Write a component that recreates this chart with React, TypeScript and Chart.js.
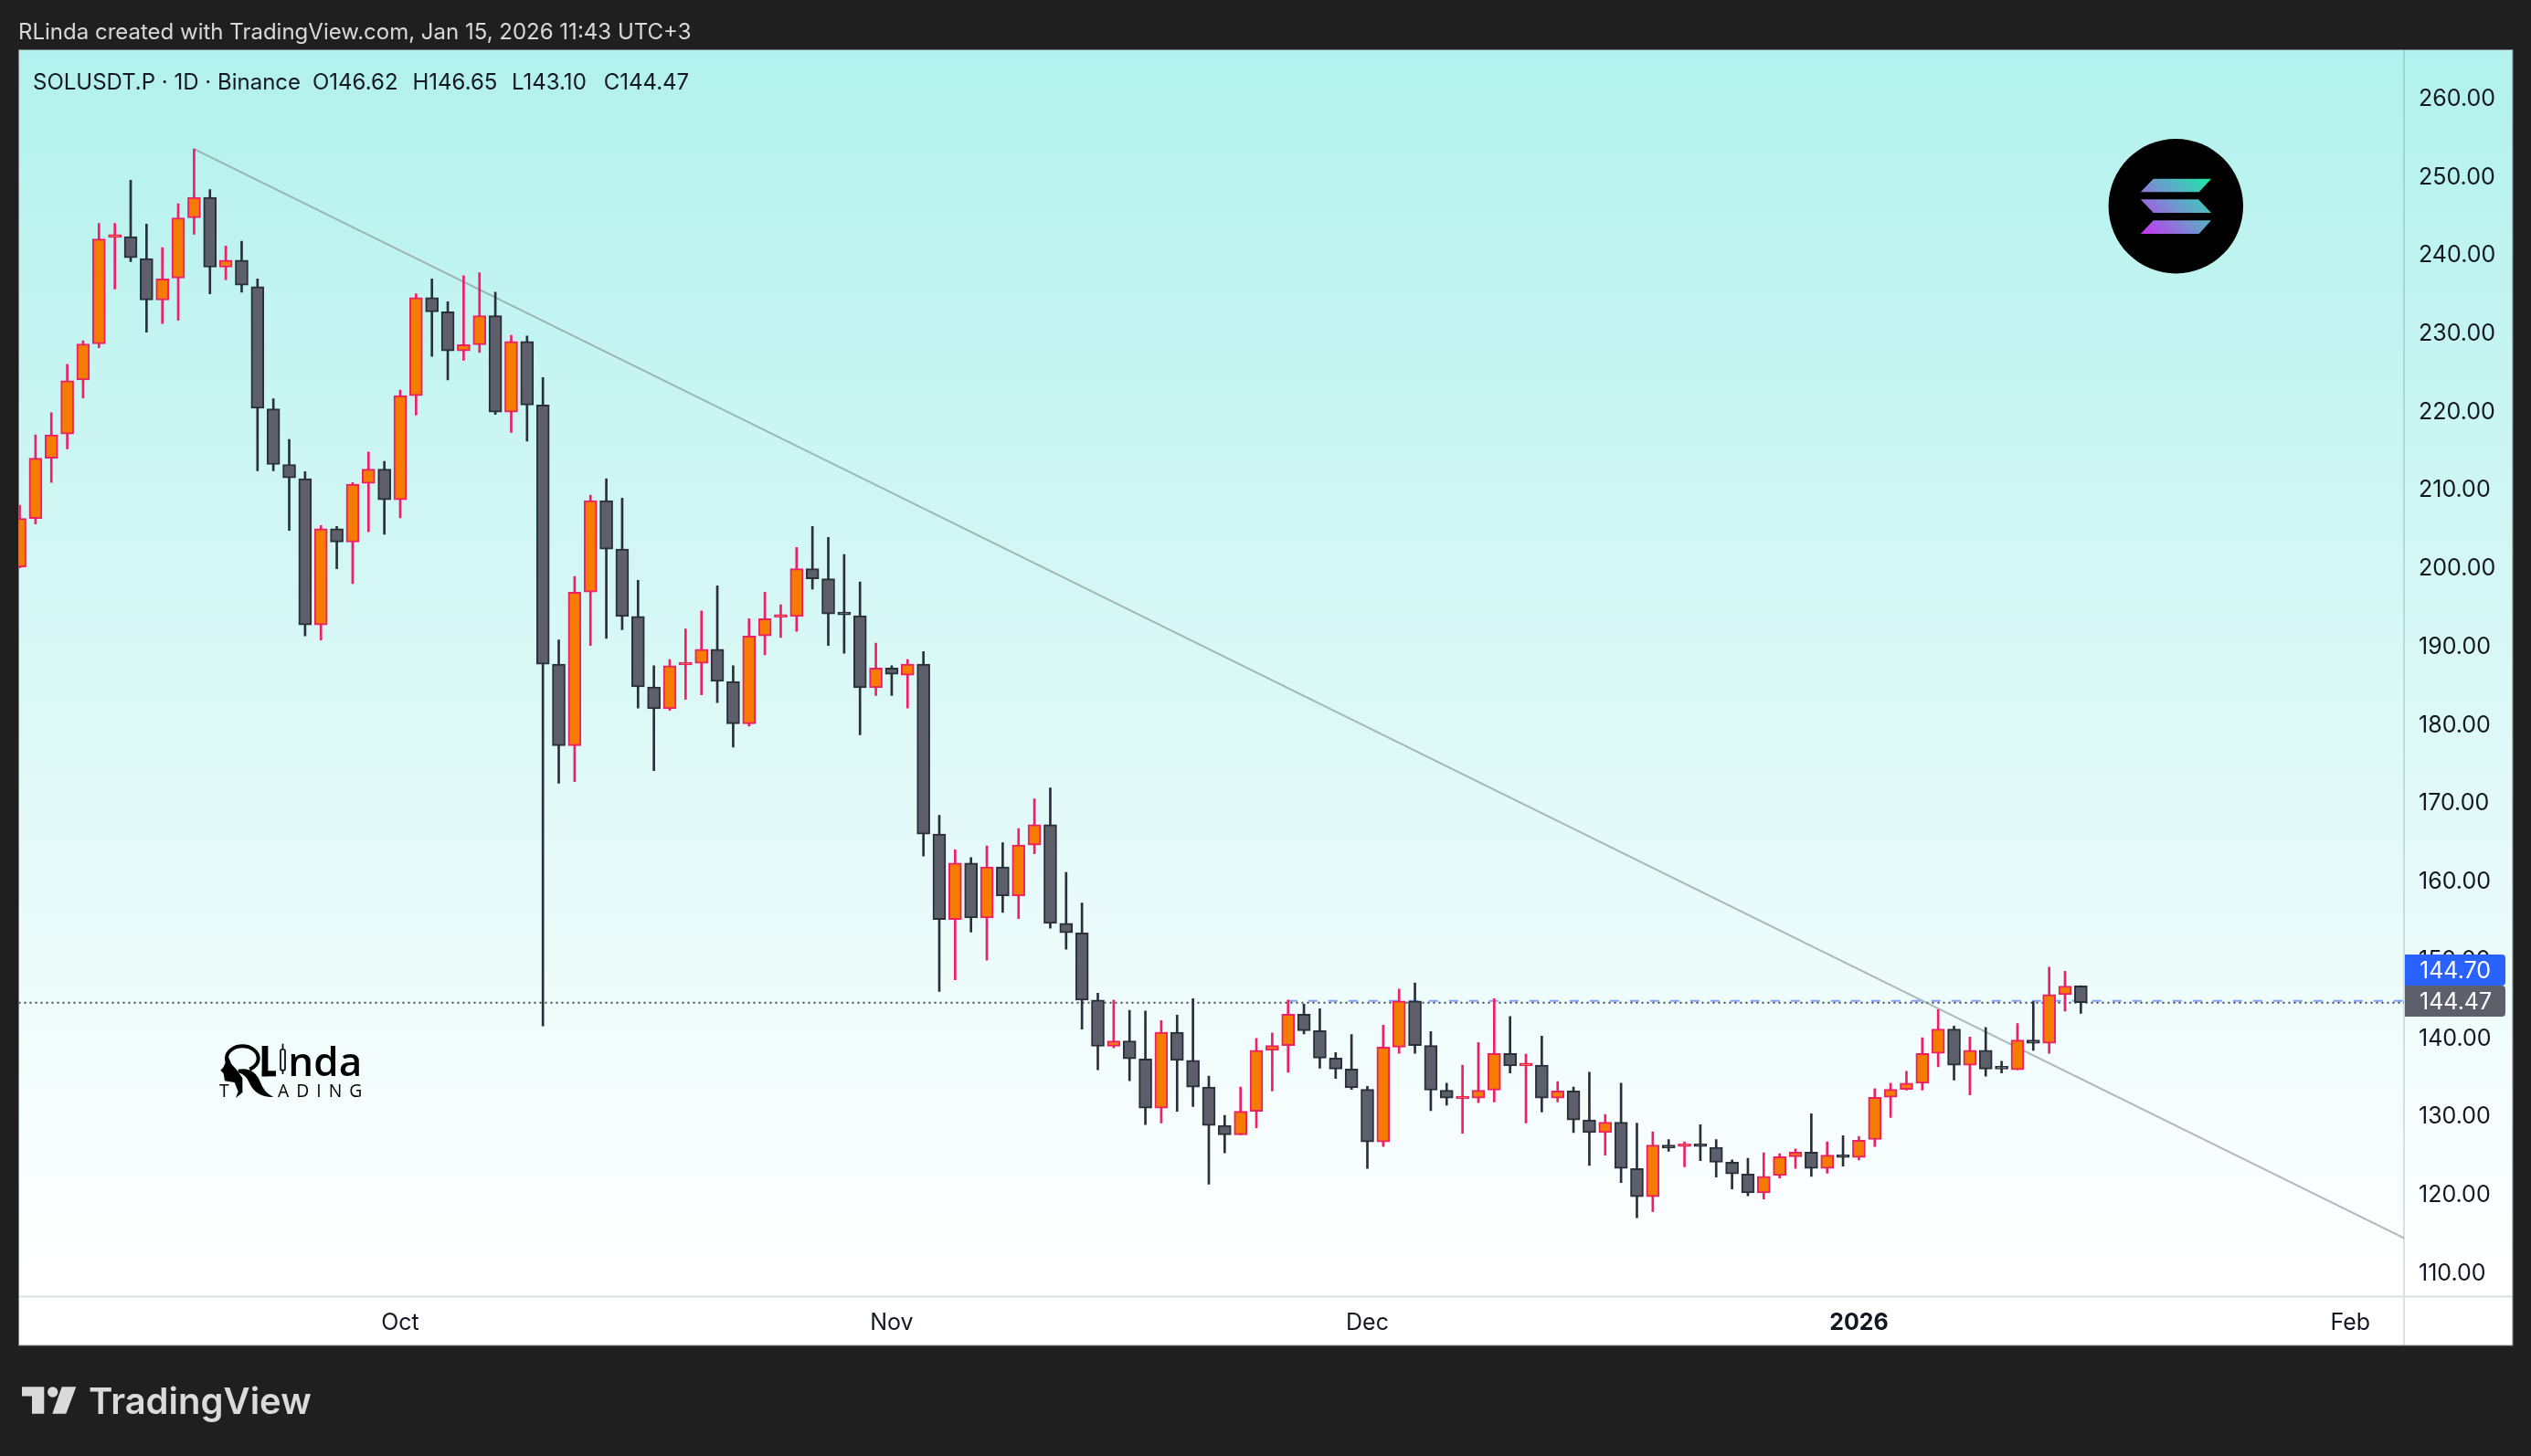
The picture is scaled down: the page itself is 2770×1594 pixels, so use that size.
import { useEffect, useRef } from "react";
import Chart from "chart.js/auto";

const FONT = "Inter, 'Noto Sans', sans-serif";

// days counted from Oct 1, first candle is Sep 7
const FIRST_DAY = -24;

const opens = [
  200.1, 206.3, 214.0, 217.1, 224.0, 228.6, 242.2, 242.3, 239.5, 234.2, 237.0, 244.7, 247.3, 238.4, 239.3, 235.9,
  220.3, 213.2, 211.4, 192.7, 205.0, 203.3, 210.8, 212.6, 208.7, 222.0, 234.5, 232.7, 227.7, 228.5, 232.2, 219.9,
  228.9, 220.8, 187.7, 177.3, 196.9, 208.6, 202.4, 193.8, 184.8, 182.0, 187.6, 187.8, 189.6, 185.5, 180.1, 191.3,
  193.7, 193.8, 199.9, 198.6, 194.2, 193.9, 184.7, 187.2, 186.3, 187.7, 166.0, 155.1, 162.3, 155.3, 161.8, 158.1,
  164.6, 167.2, 154.6, 153.4, 144.8, 138.9, 139.6, 137.3, 131.0, 140.7, 137.1, 133.7, 128.8, 127.6, 130.6, 138.4,
  139.0, 143.0, 140.9, 137.4, 136.0, 133.4, 126.7, 138.8, 144.7, 139.0, 133.3, 132.2, 132.3, 133.3, 138.0, 136.4,
  136.5, 132.3, 133.2, 129.5, 127.9, 129.2, 123.3, 119.7, 126.3, 126.1, 126.2, 126.0, 124.1, 122.6, 120.2, 122.4,
  124.8, 125.4, 123.3, 125.0, 124.7, 127.0, 132.4, 133.4, 134.2, 138.0, 141.1, 136.5, 138.4, 136.1, 135.9, 139.7,
  139.3, 145.5, 146.62,
];
const highs = [
  208.0, 217.0, 219.8, 226.0, 229.0, 244.0, 244.0, 249.5, 243.9, 240.9, 246.5, 253.5, 248.3, 241.1, 241.7, 236.9,
  221.6, 216.4, 212.3, 205.4, 205.3, 210.9, 214.8, 213.6, 222.7, 235.0, 236.9, 234.0, 237.3, 237.7, 235.2, 229.7,
  229.6, 224.3, 190.8, 198.9, 209.3, 211.4, 208.9, 198.4, 187.5, 188.3, 192.2, 194.5, 197.7, 187.5, 193.5, 196.9,
  195.3, 202.6, 205.3, 203.9, 201.7, 198.2, 190.4, 187.5, 188.3, 189.3, 168.4, 164.0, 163.0, 164.5, 164.9, 166.7,
  170.5, 171.9, 161.1, 157.2, 145.7, 144.8, 143.5, 143.4, 142.2, 142.9, 145.0, 135.1, 130.1, 133.7, 139.9, 140.6,
  144.8, 144.3, 143.7, 138.1, 140.4, 133.8, 141.6, 146.2, 147.0, 140.8, 134.2, 136.5, 139.4, 145.0, 142.7, 137.9,
  140.2, 134.4, 133.7, 135.6, 130.2, 134.2, 129.1, 128.0, 127.0, 126.7, 128.9, 127.0, 124.4, 124.6, 125.3, 125.2,
  125.8, 130.3, 126.7, 127.5, 127.4, 133.5, 134.2, 135.7, 140.0, 143.6, 141.5, 140.1, 141.3, 137.0, 141.8, 144.6,
  149.0, 148.5, 146.65,
];
const lows = [
  200.0, 205.6, 210.9, 215.2, 221.7, 228.1, 235.6, 239.1, 230.1, 231.2, 231.6, 242.6, 235.0, 236.8, 235.2, 212.4,
  212.4, 204.8, 191.3, 190.8, 199.9, 198.0, 204.6, 204.3, 206.4, 219.5, 227.0, 224.0, 226.5, 227.5, 219.6, 217.3,
  216.2, 141.5, 172.5, 172.7, 190.1, 191.0, 192.1, 182.1, 174.1, 181.8, 183.2, 183.8, 182.8, 177.1, 179.8, 188.9,
  191.1, 191.9, 197.3, 190.1, 189.1, 178.7, 183.7, 183.7, 182.1, 163.2, 145.9, 147.4, 153.5, 149.9, 156.0, 155.2,
  163.5, 154.0, 151.3, 141.1, 135.9, 138.7, 134.5, 128.9, 129.1, 130.6, 131.2, 121.3, 125.3, 127.6, 128.5, 133.2,
  135.6, 140.5, 136.1, 134.8, 133.4, 123.3, 126.1, 138.0, 138.0, 130.7, 131.4, 127.8, 131.7, 131.8, 135.5, 129.1,
  130.5, 131.8, 127.9, 123.7, 125.0, 121.5, 117.0, 117.8, 125.5, 123.5, 124.3, 122.2, 120.7, 119.8, 119.4, 122.1,
  123.3, 122.3, 122.7, 123.6, 124.4, 126.1, 129.8, 133.3, 133.3, 136.3, 134.6, 132.7, 135.1, 135.5, 135.9, 138.4,
  138.0, 143.4, 143.1,
];
const closes = [
  206.3, 214.0, 217.0, 223.9, 228.6, 242.0, 242.4, 239.6, 234.2, 236.9, 244.7, 247.3, 238.4, 239.3, 236.1, 220.4,
  213.2, 211.5, 192.7, 205.0, 203.3, 210.7, 212.6, 208.7, 222.0, 234.5, 232.7, 227.7, 228.5, 232.2, 219.9, 228.9,
  220.8, 187.7, 177.3, 196.9, 208.6, 202.4, 193.8, 184.8, 182.0, 187.5, 187.8, 189.6, 185.5, 180.1, 191.3, 193.5,
  193.9, 199.9, 198.6, 194.1, 194.0, 184.7, 187.2, 186.4, 187.7, 166.0, 155.1, 162.3, 155.3, 161.8, 158.1, 164.6,
  167.2, 154.6, 153.4, 144.8, 138.9, 139.6, 137.3, 131.0, 140.7, 137.1, 133.7, 128.8, 127.6, 130.6, 138.4, 139.0,
  143.0, 140.9, 137.4, 136.0, 133.6, 126.7, 138.8, 144.7, 139.0, 133.3, 132.3, 132.4, 133.3, 138.0, 136.4, 136.6,
  132.3, 133.2, 129.5, 127.9, 129.2, 123.3, 119.7, 126.3, 125.9, 126.2, 126.1, 124.1, 122.6, 120.2, 122.3, 124.8,
  125.4, 123.3, 125.0, 124.7, 126.9, 132.4, 133.4, 134.2, 138.0, 141.1, 136.5, 138.4, 136.0, 136.0, 139.7, 139.3,
  145.5, 146.6, 144.47,
];

const dateTicks = [0, 31, 61, 92, 123];
const dateLabels = ["Oct", "Nov", "Dec", "2026", "Feb"];

const trendDays = [-13, 126.4];
const trendPrices = [253.5, 114.4];

const lastPrice = 144.47;
const bluePrice = 144.7;
const blueLineStart = 56;

const legendLabels = ["SOLUSDT.P · 1D · Binance", "O146.62", "H146.65", "L143.10", "C144.47"];
const HEADER = "RLinda created with TradingView.com, Jan 15, 2026 11:43 UTC+3";

const UP_FILL = "#f57c00";
const UP_LINE = "#ee1f66";
const DOWN_FILL = "#5d606b";
const DOWN_LINE = "#2a2e39";

const X_MIN = -24.06;
const X_MAX = 126.38;

const W = 2770;
const H = 1594;
const PANEL = { left: 20.5, top: 54.5, right: 2750, bottom: 1473 };

const isUp = opens.map((o, i) => closes[i] >= o);

function shape(ctx: CanvasRenderingContext2D, pts: number[][]) {
  ctx.beginPath();
  pts.forEach((p, i) => (i ? ctx.lineTo(p[0], p[1]) : ctx.moveTo(p[0], p[1])));
  ctx.closePath();
  ctx.fill();
}

function drawSolana(ctx: CanvasRenderingContext2D) {
  ctx.fillStyle = "#000";
  ctx.beginPath();
  ctx.arc(2381.3, 225.7, 73.7, 0, Math.PI * 2);
  ctx.fill();
  const g = ctx.createLinearGradient(2345, 262, 2418, 190);
  g.addColorStop(0, "#cb2cf2");
  g.addColorStop(0.5, "#6f98cf");
  g.addColorStop(1, "#14f0a5");
  ctx.fillStyle = g;
  shape(ctx, [[2356.7, 195.7], [2420, 195.7], [2406.7, 210.3], [2342.7, 210.3]]);
  shape(ctx, [[2342.7, 218.3], [2406, 218.3], [2420, 233], [2356.7, 233]]);
  shape(ctx, [[2356.7, 241.3], [2420, 241.3], [2406.7, 256], [2342.7, 256]]);
}

// logo is laid out at 3x and scaled down
function drawRLinda(ctx: CanvasRenderingContext2D) {
  ctx.save();
  ctx.translate(230, 1130);
  ctx.scale(1 / 3, 1 / 3);
  ctx.fillStyle = "#000";
  ctx.strokeStyle = "#000";
  // hair ring of the R
  ctx.lineWidth = 12;
  ctx.beginPath();
  ctx.ellipse(106, 86, 52, 40, 0, Math.PI * 0.75, Math.PI * 2.35);
  ctx.stroke();
  // face and neck
  shape(ctx, [[60, 82], [50, 100], [44, 115], [34, 125], [44, 136], [48, 160], [80, 165], [92, 195], [84, 216], [106, 198], [106, 150], [86, 122], [70, 105]]);
  // leg of the R
  ctx.beginPath();
  ctx.moveTo(92, 122);
  ctx.quadraticCurveTo(145, 112, 165, 165);
  ctx.quadraticCurveTo(178, 200, 208, 213);
  ctx.quadraticCurveTo(150, 215, 128, 165);
  ctx.quadraticCurveTo(118, 140, 92, 132);
  ctx.closePath();
  ctx.fill();
  // L
  ctx.fillRect(170, 45, 20, 100);
  ctx.fillRect(170, 127, 46, 18);
  // candle as the i
  ctx.fillRect(236, 38, 5, 100);
  ctx.fillStyle = "#eafcfb";
  ctx.lineWidth = 5;
  ctx.beginPath();
  ctx.roundRect(231, 57, 15, 68, 4);
  ctx.fill();
  ctx.stroke();
  ctx.fillStyle = "#000";
  ctx.textAlign = "left";
  ctx.textBaseline = "alphabetic";
  ctx.font = "600 132px 'Open Sans'";
  ctx.fillText("nda", 256, 143);
  ctx.font = "400 58px 'Open Sans'";
  ctx.fillText("T", 30, 212);
  (ctx as any).letterSpacing = "24px";
  ctx.fillText("ADING", 222, 212);
  (ctx as any).letterSpacing = "0px";
  ctx.restore();
}

function drawTvLogo(ctx: CanvasRenderingContext2D) {
  ctx.fillStyle = "#dadada";
  shape(ctx, [[24, 1518.3], [48.3, 1518.3], [48.3, 1547.7], [35, 1547.7], [35, 1528.5], [24, 1528.5]]);
  shape(ctx, [[67.7, 1518.3], [83.3, 1518.3], [72.3, 1547.7], [57.3, 1547.7]]);
  ctx.beginPath();
  ctx.arc(57.7, 1524, 5.7, 0, Math.PI * 2);
  ctx.fill();
  ctx.textAlign = "left";
  ctx.textBaseline = "alphabetic";
  ctx.font = `600 40px ${FONT}`;
  ctx.fillText("TradingView", 97, 1547.7);
}

const framePlugin = {
  id: "frame",
  beforeDraw(chart: any) {
    const { ctx } = chart;
    ctx.save();
    ctx.fillStyle = "#1f1f1f";
    ctx.fillRect(0, 0, W, H);
    ctx.fillStyle = "#fff";
    ctx.fillRect(PANEL.left, PANEL.top, PANEL.right - PANEL.left, PANEL.bottom - PANEL.top);
    const g = ctx.createLinearGradient(0, PANEL.top, 0, 1385);
    g.addColorStop(0, "#b2f1ed");
    g.addColorStop(1, "#ffffff");
    ctx.fillStyle = g;
    ctx.fillRect(PANEL.left, PANEL.top, PANEL.right - PANEL.left, 1419 - PANEL.top);
    ctx.strokeStyle = "#7c7f80";
    ctx.lineWidth = 1;
    ctx.strokeRect(PANEL.left, PANEL.top, PANEL.right - PANEL.left, PANEL.bottom - PANEL.top);
    // pane separators
    ctx.strokeStyle = "rgba(0,40,40,0.14)";
    ctx.lineWidth = 2;
    ctx.beginPath();
    ctx.moveTo(2631, PANEL.top);
    ctx.lineTo(2631, PANEL.bottom);
    ctx.moveTo(PANEL.left, 1419.5);
    ctx.lineTo(PANEL.right, 1419.5);
    ctx.stroke();
    // header text
    ctx.fillStyle = "#d8d8d8";
    ctx.textAlign = "left";
    ctx.textBaseline = "middle";
    ctx.font = `400 24px ${FONT}`;
    ctx.fillText(HEADER, 20, 36);
    ctx.restore();
  },
  afterDraw(chart: any) {
    const { ctx } = chart;
    ctx.save();
    ctx.fillStyle = "#131722";
    ctx.textAlign = "left";
    ctx.textBaseline = "middle";
    ctx.font = `400 24px ${FONT}`;
    [36, 342, 451.5, 560, 660.7].forEach((x, i) => ctx.fillText(legendLabels[i], x, 90.5));
    // price labels over the axis
    const tag = (y0: number, y1: number, color: string, text: string) => {
      ctx.fillStyle = color;
      ctx.beginPath();
      ctx.roundRect(2632, y0, 110, y1 - y0, [0, 4, 4, 0]);
      ctx.fill();
      ctx.fillStyle = "#fff";
      ctx.font = `400 25px ${FONT}`;
      ctx.fillText(text, 2648, (y0 + y1) / 2 + 1);
    };
    tag(1045, 1079, "#2962ff", bluePrice.toFixed(2));
    tag(1079, 1113, "#5d606b", lastPrice.toFixed(2));
    drawSolana(ctx);
    drawRLinda(ctx);
    drawTvLogo(ctx);
    ctx.restore();
  },
};

const App = () => {
  const chartRef = useRef<HTMLCanvasElement | null>(null);

  useEffect(() => {
    if (!chartRef.current) return;
    document.body.style.margin = "0";
    const ctx = chartRef.current.getContext("2d");
    if (!ctx) return;

    const days = opens.map((_, i) => i + FIRST_DAY);

    const chart = new Chart(ctx, {
      type: "bar",
      plugins: [framePlugin],
      data: {
        datasets: [
          {
            type: "line",
            data: [
              { x: X_MIN, y: lastPrice },
              { x: X_MAX, y: lastPrice },
            ],
            borderColor: "#434651",
            borderWidth: 2,
            borderDash: [2, 4],
            pointRadius: 0,
            order: 4,
          },
          {
            type: "line",
            data: [
              { x: blueLineStart, y: bluePrice },
              { x: X_MAX, y: bluePrice },
            ],
            borderColor: "#7da2ff",
            borderWidth: 2,
            borderDash: [10, 12],
            pointRadius: 0,
            order: 5,
          },
          {
            type: "line",
            data: trendDays.map((d, i) => ({ x: d, y: trendPrices[i] })),
            borderColor: "rgba(120,130,130,0.55)",
            borderWidth: 2,
            pointRadius: 0,
            order: 3,
          },
          {
            data: days.map((d, i) => ({ x: d, y: [lows[i], highs[i]] })),
            backgroundColor: isUp.map((u) => (u ? UP_LINE : DOWN_LINE)),
            borderWidth: 0,
            barThickness: 2,
            grouped: false,
            order: 2,
          },
          {
            data: days.map((d, i) => ({ x: d, y: [opens[i], closes[i]] })),
            backgroundColor: isUp.map((u) => (u ? UP_FILL : DOWN_FILL)),
            borderColor: isUp.map((u) => (u ? UP_LINE : DOWN_LINE)),
            borderWidth: 2,
            borderSkipped: false,
            barThickness: 14,
            minBarLength: 3,
            grouped: false,
            order: 1,
          },
        ] as any,
      },
      options: {
        responsive: false,
        animation: false,
        devicePixelRatio: 1,
        layout: { padding: { left: 20.5, top: 54.5, right: 20, bottom: 121 } },
        plugins: { legend: { display: false }, tooltip: { enabled: false } },
        scales: {
          x: {
            type: "linear",
            offset: false,
            min: X_MIN,
            max: X_MAX,
            grid: { display: false },
            border: { display: false },
            afterBuildTicks: (scale: any) => {
              scale.ticks = dateTicks.map((value) => ({ value }));
            },
            afterFit: (scale: any) => {
              scale.height = 54;
            },
            ticks: {
              autoSkip: false,
              maxRotation: 0,
              padding: 6,
              color: "#131722",
              font: (c: any) => ({
                family: FONT,
                size: 25,
                weight: c.tick && c.tick.value === 92 ? "bold" : "normal",
              }),
              callback: (v: any) => dateLabels[dateTicks.indexOf(v)],
            },
          },
          y: {
            position: "right",
            min: 107,
            max: 266.16,
            grid: { display: false },
            border: { display: false },
            afterFit: (scale: any) => {
              scale.width = 119;
            },
            ticks: {
              stepSize: 10,
              includeBounds: false,
              padding: 8,
              labelOffset: 1,
              color: "#131722",
              font: { family: FONT, size: 25 },
              callback: (v: any) => Number(v).toFixed(2),
            },
          },
        },
      } as any,
    });

    return () => {
      chart.destroy();
    };
  }, []);

  return (
    <div style={{ position: "absolute", left: 0, top: 0, width: W, height: H }}>
      <canvas ref={chartRef} width={W} height={H} style={{ display: "block" }}></canvas>
    </div>
  );
};

export default App;
